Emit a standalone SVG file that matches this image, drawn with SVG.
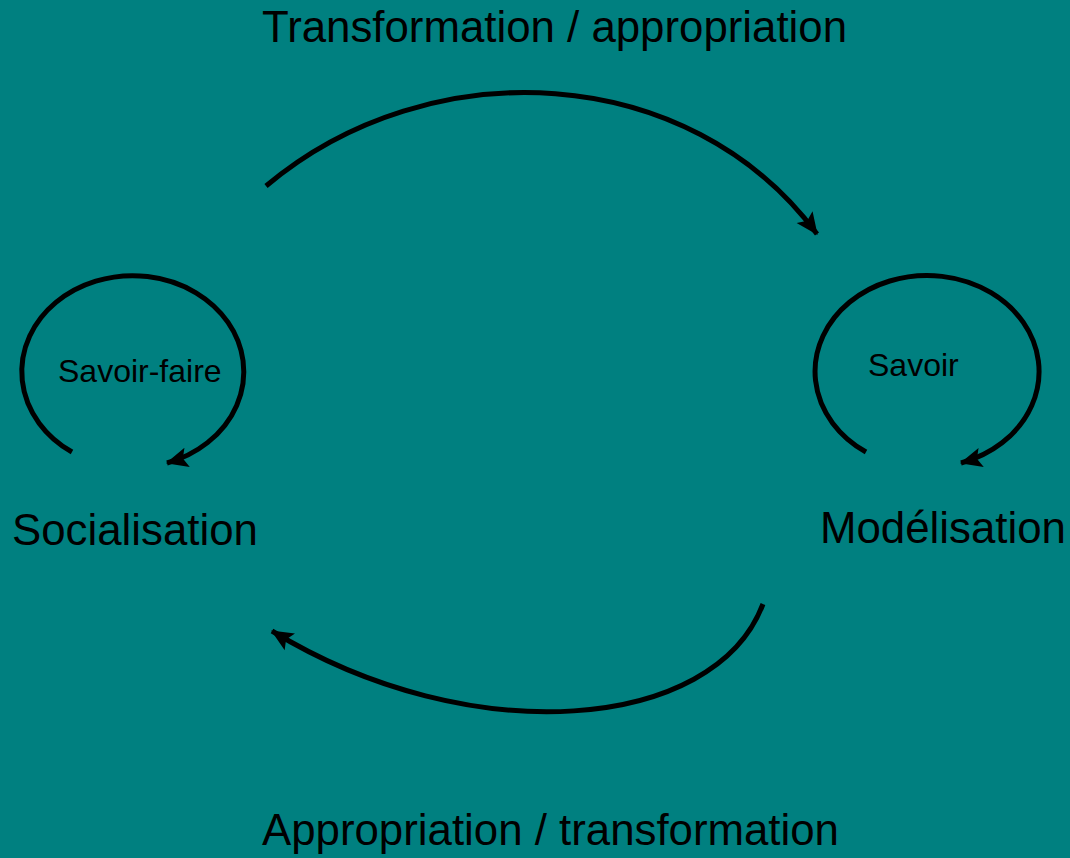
<svg xmlns="http://www.w3.org/2000/svg" width="1070" height="858" viewBox="0 0 1070 858">
  <defs>
    <marker id="head" viewBox="0 0 10 10" refX="9.5" refY="5" markerWidth="4.4" markerHeight="4.4" markerUnits="strokeWidth" orient="auto">
      <path d="M0,0.5 L10,5 L0,9.5 L2,5 Z" fill="#000"/>
    </marker>
    <style>
      .flow { fill: none; stroke: #000; stroke-width: 5; marker-end: url(#head); }
      .big { font-family: "Liberation Sans", Arial, sans-serif; font-size: 43.8px; fill: #000; }
      .small { font-family: "Liberation Sans", Arial, sans-serif; font-size: 32px; fill: #000; }
    </style>
  </defs>
  <rect width="1070" height="858" fill="#008080"/>

  <g id="connectors">
    <!-- upper sweep: Socialisation to Modélisation -->
    <path class="flow" d="M266,186 C430,48 690,62 817,234"/>
    <!-- lower sweep: Modélisation back to Socialisation -->
    <path class="flow" d="M763,604 C715,732 470,752 272,631"/>
    <!-- self loops -->
    <path class="flow" d="M72,452 A111,96 0 1 1 167,463"/>
    <path class="flow" d="M866,452 A112,96 0 1 1 961,463"/>
  </g>

  <g id="label-top">
    <text class="big" x="262" y="42">Transformation / appropriation</text>
  </g>
  <g id="label-bottom">
    <text class="big" x="262" y="845">Appropriation / transformation</text>
  </g>
  <g id="socialisation">
    <text class="big" x="12" y="545">Socialisation</text>
    <text class="small" x="58" y="382">Savoir-faire</text>
  </g>
  <g id="modelisation">
    <text class="big" x="820" y="543">Modélisation</text>
    <text class="small" x="868" y="376">Savoir</text>
  </g>
</svg>
